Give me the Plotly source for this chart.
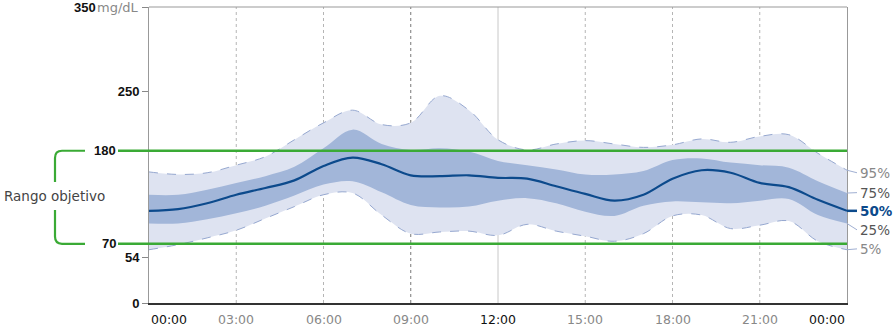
import plotly.graph_objects as go

# ---------------- data ----------------
hours = list(range(25))
p95 = [155, 152, 154, 163, 173, 193, 213, 228, 211, 213, 245, 228, 193, 181, 188, 192, 188, 184, 187, 194, 190, 197, 199, 177, 157]
p75 = [128, 128, 134, 142, 150, 161, 183, 205, 188, 181, 183, 179, 168, 163, 158, 152, 152, 156, 169, 171, 166, 163, 160, 144, 130]
p50 = [109, 111, 118, 128, 136, 145, 162, 172, 164, 151, 150, 151, 148, 147, 138, 129, 121, 128, 147, 157, 154, 142, 137, 122, 109]
p25 = [94, 94, 99, 106, 115, 127, 140, 144, 131, 116, 113, 114, 121, 124, 118, 108, 103, 115, 120, 119, 118, 121, 123, 104, 94]
p5 = [63, 69, 77, 86, 100, 114, 128, 130, 104, 82, 84, 85, 80, 93, 85, 79, 73, 82, 103, 104, 88, 92, 97, 73, 63]

x_tick_hours = [0, 3, 6, 9, 12, 15, 18, 21, 24]
x_tick_labels = ["00:00", "03:00", "06:00", "09:00", "12:00", "15:00", "18:00", "21:00", "00:00"]
y_tick_vals = [0, 54, 250, 350]
y_unit = "mg/dL"
target_low, target_high = 70, 180
pct_labels = ["95%", "75%", "50%", "25%", "5%"]
pct_label_y = [154, 130.5, 109, 86.5, 64]

# ---------------- styling ----------------
LIGHT = "rgb(222,227,241)"
DARK = "rgb(162,182,217)"
EDGE = "rgb(150,168,208)"
NAVY = "rgb(12,74,140)"
GREEN = "rgb(58,170,53)"

W, H = 896, 327
L, R, T, B = 149, 49, 7, 24
PW = W - L - R


def px2paper(px):
    return (px - L) / PW


fig = go.Figure()

fig.add_trace(go.Scatter(x=hours, y=p5, mode="lines", line=dict(color=EDGE, width=1, dash="dash", shape="spline"),
                         hoverinfo="skip", showlegend=False))
fig.add_trace(go.Scatter(x=hours, y=p95, mode="lines", line=dict(color=EDGE, width=1, dash="dash", shape="spline"),
                         fill="tonexty", fillcolor=LIGHT, hoverinfo="skip", showlegend=False))
fig.add_trace(go.Scatter(x=hours, y=p25, mode="lines", line=dict(color=DARK, width=0, shape="spline"),
                         hoverinfo="skip", showlegend=False))
fig.add_trace(go.Scatter(x=hours, y=p75, mode="lines", line=dict(color=DARK, width=0, shape="spline"),
                         fill="tonexty", fillcolor=DARK, hoverinfo="skip", showlegend=False))
fig.add_trace(go.Scatter(x=hours, y=p50, mode="lines", line=dict(color=NAVY, width=2.2, shape="spline"),
                         hoverinfo="skip", showlegend=False))

shapes = []
# vertical grid lines
for h in x_tick_hours[1:-1]:
    if h == 12:
        ln = dict(color="#c8c8c8", width=1)
    elif h == 9:
        ln = dict(color="#777777", width=1, dash="dot")
    else:
        ln = dict(color="#b5b5b5", width=1, dash="dot")
    shapes.append(dict(type="line", xref="x", yref="paper", x0=h, x1=h, y0=0, y1=1, line=ln, layer="below"))

# top border
shapes.append(dict(type="line", xref="paper", yref="paper", x0=0, x1=1, y0=1, y1=1,
                   line=dict(color="#999999", width=1)))

# target range lines
for v in (target_high, target_low):
    shapes.append(dict(type="line", xref="paper", yref="y", x0=px2paper(118), x1=1, y0=v, y1=v,
                       line=dict(color=GREEN, width=2.5)))

# bracket
ry = 8.5
xa, xb, xc = px2paper(85), px2paper(62), px2paper(55)
gap_top, gap_bot = 143, 110
path_top = (f"M {xa},{target_high} L {xb},{target_high} Q {xc},{target_high} {xc},{target_high - ry} "
            f"L {xc},{gap_top}")
path_bot = (f"M {xc},{gap_bot} L {xc},{target_low + ry} Q {xc},{target_low} {xb},{target_low} "
            f"L {xa},{target_low}")
for p in (path_top, path_bot):
    shapes.append(dict(type="path", xref="paper", yref="y", path=p, line=dict(color=GREEN, width=2.2)))

# leader lines for percentile labels
ends = [p95[-1], p75[-1], p50[-1], p25[-1], p5[-1]]
for i, (e, ly) in enumerate(zip(ends, pct_label_y)):
    col = NAVY if i == 2 else "rgb(160,175,210)"
    wd = 2.5 if i == 2 else 1
    shapes.append(dict(type="line", xref="paper", yref="y", x0=1.0, x1=px2paper(857), y0=e, y1=ly,
                       line=dict(color=col, width=wd)))

annotations = []
# target labels
for v in (target_high, target_low):
    annotations.append(dict(xref="paper", yref="y", x=px2paper(118), y=v, xanchor="right", yanchor="middle",
                            text=f"<b>{v}</b>", showarrow=False,
                            font=dict(family="Liberation Sans, Arial", size=13, color="#111")))
annotations.append(dict(xref="paper", yref="y", x=px2paper(54), y=(gap_top + gap_bot) / 2 + 0.5,
                        xanchor="center", yanchor="middle", text="Rango objetivo", showarrow=False,
                        font=dict(family="DejaVu Sans", size=13.5, color="#444")))

# top tick label: "350" + unit
annotations.append(dict(xref="paper", yref="y", x=px2paper(141), y=y_tick_vals[-1], xanchor="right",
                        yanchor="middle", text=y_unit, showarrow=False,
                        font=dict(family="DejaVu Sans", size=13, color="#888")))
annotations.append(dict(xref="paper", yref="y", x=px2paper(98), y=y_tick_vals[-1], xanchor="right",
                        yanchor="middle", text=f"<b>{y_tick_vals[-1]}</b>", showarrow=False,
                        font=dict(family="Liberation Sans, Arial", size=13, color="#111")))

# x tick labels
for i, (h, t) in enumerate(zip(x_tick_hours, x_tick_labels)):
    if i == 0:
        anchor = "left"
    elif i == len(x_tick_hours) - 1:
        anchor = "right"
    else:
        anchor = "center"
    strong = t in ("00:00", "12:00")
    annotations.append(dict(xref="x", yref="paper", x=h, y=0, yshift=-16, xanchor=anchor, yanchor="middle",
                            text=t, showarrow=False,
                            font=dict(family="DejaVu Sans", size=12.5, color="#111" if strong else "#888")))

# percentile labels
for i, (t, ly) in enumerate(zip(pct_labels, pct_label_y)):
    annotations.append(dict(xref="paper", yref="y", x=px2paper(858), y=ly, xanchor="left", yanchor="middle",
                            text=f"<b>{t}</b>" if i == 2 else t, showarrow=False,
                            font=dict(family="DejaVu Sans", size=13.5,
                                      color=NAVY if i == 2 else ("#555" if i in (1, 3) else "#888"))))

y_tick_text = [f"<b>{v}</b>" for v in y_tick_vals]
y_tick_text[-1] = ""

fig.update_layout(
    width=W, height=H,
    margin=dict(l=L, r=R, t=T, b=B, pad=0),
    plot_bgcolor="white", paper_bgcolor="white",
    xaxis=dict(range=[0, 24], showgrid=False, zeroline=False, showticklabels=False, ticks="",
               showline=True, linecolor="#333333", linewidth=2, fixedrange=True),
    yaxis=dict(range=[0, 350], showgrid=False, zeroline=False, tickvals=y_tick_vals, ticktext=y_tick_text,
               ticks="outside", ticklen=6, tickcolor="#888888", tickwidth=1,
               tickfont=dict(family="Liberation Sans, Arial", size=13, color="#111"),
               showline=True, linecolor="#999999", linewidth=1, mirror=True, fixedrange=True,
               automargin=False),
    shapes=shapes,
    annotations=annotations,
)

fig.write_html("out.html", config={"displayModeBar": False},
               post_script="document.body.style.margin='0';document.body.style.overflow='hidden';")
